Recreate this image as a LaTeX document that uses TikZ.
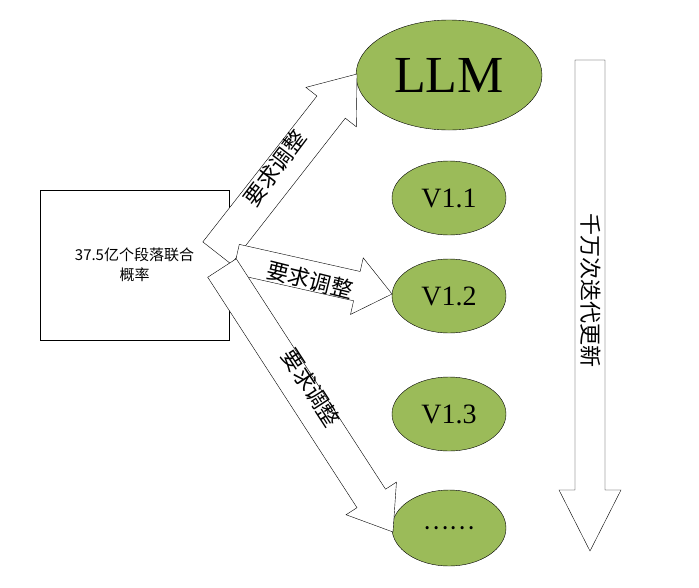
\documentclass[tikz,border=0pt]{standalone}
\usepackage{fontspec}
\setmainfont{Liberation Serif}
\newfontfamily\cjk{Noto Sans CJK SC}
\usetikzlibrary{calc}
\newcommand\barrow[5]{%
\path (#1) coordinate(bS) (#2) coordinate(bE) ($(bE)!#5!(bS)$) coordinate(bH);
\draw[fill=white,line join=miter] ($(bS)!#3!90:(bE)$) -- ($(bH)!#3!-90:(bS)$) -- ($(bH)!#4!-90:(bS)$) -- (bE) -- ($(bH)!#4!90:(bS)$) -- ($(bH)!#3!90:(bS)$) -- ($(bS)!#3!-90:(bE)$) -- cycle;}
\tikzset{ell/.style={ellipse,draw,fill=olv},
lbl/.style={font=\cjk\fontsize{22}{22}\selectfont,inner sep=0pt}}
\usetikzlibrary{shapes.geometric}
\definecolor{olv}{HTML}{9BBB59}
\begin{document}
\begin{tikzpicture}[x=1pt,y=-1pt]
\useasboundingbox (0,0) rectangle (699,587);
\node[draw,minimum width=189pt,minimum height=150pt,align=center,font=\cjk\fontsize{15}{20}\selectfont] (box) at (134.5,265) {37.5亿个段落联合\\概率};
\node[ell,minimum width=186pt,minimum height=110pt,font=\fontsize{52}{52}\selectfont] (llm) at (449,75) {LLM};
\node[ell,minimum width=114pt,minimum height=74pt,font=\fontsize{28}{28}\selectfont] (v1) at (449,198) {V1.1};
\node[ell,minimum width=114pt,minimum height=74pt,font=\fontsize{28}{28}\selectfont] (v2) at (449,296) {V1.2};
\node[ell,minimum width=114pt,minimum height=74pt,font=\fontsize{28}{28}\selectfont] (v3) at (449,414) {V1.3};
\node[ell,minimum width=114pt,minimum height=76pt,font=\cjk\fontsize{24}{24}\selectfont] (v4) at (449,528) {……};
\coordinate (s1) at (217,253); \coordinate (e1) at (357,74);
\coordinate (s2) at (236,259); \coordinate (e2) at (392,294);
\coordinate (s3) at (222,268); \coordinate (e3) at (393,532);
\barrow{s1}{e1}{18pt}{32pt}{42pt}
\barrow{s2}{e2}{15pt}{29pt}{36pt}
\barrow{s3}{e3}{17pt}{30pt}{40pt}
\node[lbl,rotate=53] (l1) at (275,168) {要求调整};
\node[lbl,rotate=-14] (l2) at (310,280) {要求调整};
\node[lbl,rotate=-57] (l3) at (311,388) {要求调整};
\coordinate (rs) at (590,60); \coordinate (re) at (590,551);
\barrow{rs}{re}{15pt}{31pt}{61pt}
\node[lbl,rotate=-90] (rt) at (591,290) {千万次迭代更新};
\end{tikzpicture}
\end{document}
